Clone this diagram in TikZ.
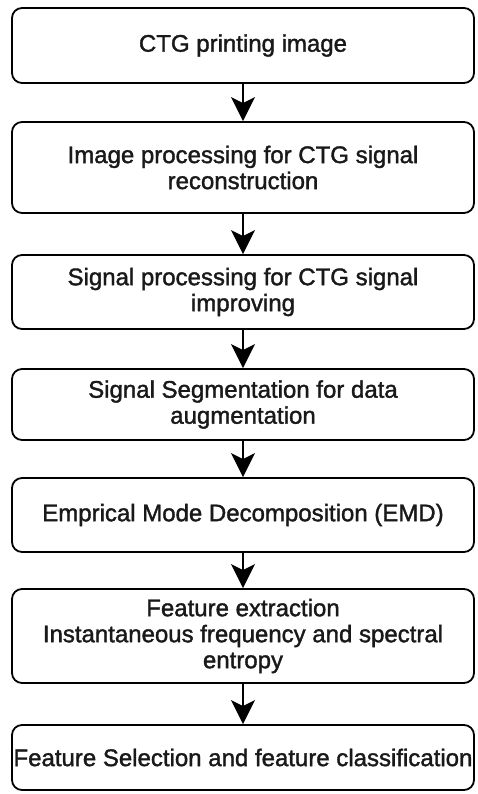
\documentclass[tikz,border=0pt]{standalone}
\usepackage{fontspec}
\setmainfont{Liberation Sans}
\newfontfamily\medfont{Liberation Sans}[FakeBold=1.5]
\usetikzlibrary{arrows.meta}
\begin{document}
\begin{tikzpicture}[x=1pt,y=-1pt,
  stepbox/.style={draw=black, line width=1.8pt, rounded corners=10pt, fill=white,
    minimum width=462pt, inner sep=0pt, align=center,
    font=\medfont\fontsize{24}{26}\selectfont, text=black!90},
  flow/.style={line width=1.8pt, -{Stealth[length=24pt,width=24pt,inset=6pt]}}]
\fill[white] (0,0) rectangle (477,794);
\useasboundingbox (0,0) rectangle (477,794);
\node[stepbox, minimum height=75pt] (b1) at (243,45.5) {CTG printing image};
\node[stepbox, minimum height=91pt] (b2) at (243,167.5) {Image processing for CTG signal\\reconstruction};
\node[stepbox, minimum height=74pt] (b3) at (243,292) {Signal processing for CTG signal\\improving};
\node[stepbox, minimum height=71pt] (b4) at (243,404.5) {Signal Segmentation for data\\augmentation};
\node[stepbox, minimum height=74pt] (b5) at (243,515) {Emprical Mode Decomposition (EMD)};
\node[stepbox, minimum height=94pt] (b6) at (243,636) {Feature extraction\\Instantaneous frequency and spectral\\entropy};
\node[stepbox, minimum height=65pt] (b7) at (243,757.5) {Feature Selection and feature classification};
\draw[flow] (b1) -- (b2);
\draw[flow] (b2) -- (b3);
\draw[flow] (b3) -- (b4);
\draw[flow] (b4) -- (b5);
\draw[flow] (b5) -- (b6);
\draw[flow] (b6) -- (b7);
\end{tikzpicture}
\end{document}
